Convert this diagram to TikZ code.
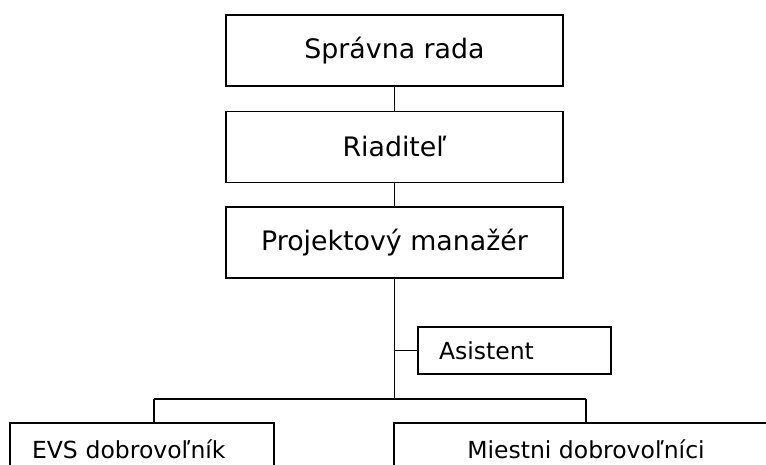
\documentclass[tikz,border=0pt]{standalone}
\usepackage{fontspec}
\setmainfont{DejaVu Sans}
\usetikzlibrary{positioning}

\begin{document}
\begin{tikzpicture}[
        x=1pt, y=-1pt,
        line width=1.9pt,
        every node/.style={draw, inner sep=0pt},
        topbox/.style={minimum width=337pt, minimum height=71pt,
            font=\fontsize{26.8}{32}\selectfont},
        lowbox/.style={minimum height=52pt,
            font=\fontsize{23.5}{28}\selectfont}]

        \clip (0,0) rectangle (766,465);

        \node[topbox] (rada) at (394.5,50.5) {Správna rada};
        \node[topbox] (riad) at (394.5,147) {Riaditeľ};
        \node[topbox] (pm) at (394.5,242.5) {Projektový manažér};
        \node[lowbox, minimum height=47pt, align=left,
            text width=193pt] (asist) at (514.5,350.5) {\hspace*{21pt}Asistent};
        \node[lowbox, align=left, text width=264pt] (evs) at (142,449) {\hspace*{22pt}EVS dobrovoľník};
        \node[lowbox, minimum width=384pt] (mies) at (586,449) {Miestni dobrovoľníci};

        \coordinate (lbus) at (154,399);
        \coordinate (rbus) at (586,399);

        \draw[-] (rada) -- (riad);
        \draw[-] (riad) -- (pm);
        \draw[-] (pm) -- (pm.south |- lbus);
        \draw[-] (pm.south |- asist.west) -- (asist.west);
        \draw[-] (lbus) -- (rbus);
        \draw[-] (lbus) -- (lbus |- evs.north);
        \draw[-] (rbus) -- (mies);

    \end{tikzpicture}
\end{document}
